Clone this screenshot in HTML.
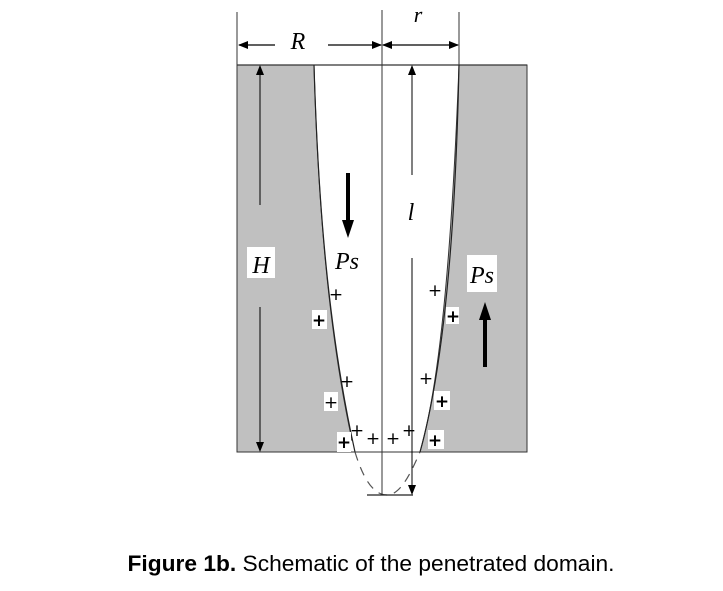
<!DOCTYPE html>
<html><head><meta charset="utf-8"><style>
body{margin:0;background:#fff;width:723px;height:591px;overflow:hidden}
</style></head><body>
<svg width="723" height="591" xmlns="http://www.w3.org/2000/svg" style="position:absolute;left:0;top:0">
<defs>
<marker id="a" markerWidth="10" markerHeight="8" refX="9" refY="4" orient="auto" markerUnits="userSpaceOnUse"><path d="M0,0 L10,4 L0,8 z" fill="#000"/></marker>
</defs>
<path d="M237,65 L314,65 C318,200 328,330 352,440 L338,440 L338,452 L237,452 Z" fill="#c0c0c0" stroke="#333" stroke-width="1"/>
<path d="M459,65 L527,65 L527,452 L420,452 C435,400 450,300 459,65 Z" fill="#c0c0c0" stroke="#333" stroke-width="1"/>
<line x1="237" y1="65" x2="527" y2="65" stroke="#333" stroke-width="1.2"/>
<path d="M314,65 C318,200 328,330 355,452" fill="none" stroke="#222" stroke-width="1.2"/>
<path d="M459,65 C455,260 440,380 420,452" fill="none" stroke="#222" stroke-width="1.2"/>
<path d="M355,452 C362,475 372,495 387,495 C400,495 410,475 420,452" fill="none" stroke="#555" stroke-width="1.2" stroke-dasharray="9,7"/>
<line x1="338" y1="452" x2="420" y2="452" stroke="#333" stroke-width="1"/>
<line x1="382" y1="10" x2="382" y2="495" stroke="#333" stroke-width="1"/>
<line x1="367" y1="495" x2="413" y2="495" stroke="#222" stroke-width="1.2"/>
<line x1="237" y1="12" x2="237" y2="65" stroke="#333"/>
<line x1="459" y1="12" x2="459" y2="65" stroke="#333"/>
<line x1="275" y1="45" x2="239" y2="45" stroke="#000" stroke-width="1.2" marker-end="url(#a)"/>
<line x1="328" y1="45" x2="381" y2="45" stroke="#000" stroke-width="1.2" marker-end="url(#a)"/>
<line x1="410" y1="45" x2="383" y2="45" stroke="#000" stroke-width="1.2" marker-end="url(#a)"/>
<line x1="410" y1="45" x2="458" y2="45" stroke="#000" stroke-width="1.2" marker-end="url(#a)"/>
<text x="298" y="49" font-family="Liberation Serif" font-style="italic" font-size="24" text-anchor="middle">R</text>
<text x="418" y="22" font-family="Liberation Serif" font-style="italic" font-size="22" text-anchor="middle">r</text>
<line x1="260" y1="205" x2="260" y2="66" stroke="#000" marker-end="url(#a)"/>
<line x1="260" y1="307" x2="260" y2="451" stroke="#000" marker-end="url(#a)"/>
<rect x="247" y="247" width="28" height="31" fill="#fff"/>
<text x="261" y="273" font-family="Liberation Serif" font-style="italic" font-size="24" text-anchor="middle">H</text>
<line x1="412" y1="175" x2="412" y2="66" stroke="#000" marker-end="url(#a)"/>
<line x1="412" y1="258" x2="412" y2="494" stroke="#000" marker-end="url(#a)"/>
<text x="411" y="220" font-family="Liberation Serif" font-style="italic" font-size="24" text-anchor="middle">l</text>
<line x1="348" y1="173" x2="348" y2="222" stroke="#000" stroke-width="4"/>
<path d="M342,220 L354,220 L348,238 Z" fill="#000"/>
<text x="347" y="269" font-family="Liberation Serif" font-style="italic" font-size="24" text-anchor="middle">Ps</text>
<line x1="485" y1="367" x2="485" y2="318" stroke="#000" stroke-width="4"/>
<path d="M479,320 L491,320 L485,302 Z" fill="#000"/>
<rect x="467" y="255" width="30" height="37" fill="#fff"/>
<text x="482" y="283" font-family="Liberation Serif" font-style="italic" font-size="24" text-anchor="middle">Ps</text>
<g font-family="DejaVu Sans" font-size="17" text-anchor="middle">
<text x="336" y="300">+</text>
<rect x="312" y="310" width="15" height="19" fill="#fff"/><text x="319" y="326" font-weight="bold">+</text>
<text x="347" y="387">+</text>
<rect x="324" y="392" width="14" height="19" fill="#fff"/><text x="331" y="408">+</text>
<text x="357" y="436">+</text>
<rect x="337" y="432" width="14" height="20" fill="#fff"/><text x="344" y="448" font-weight="bold">+</text>
<text x="373" y="444">+</text>
<text x="393" y="444">+</text>
<text x="409" y="436">+</text>
<text x="435" y="296">+</text>
<rect x="446" y="307" width="13" height="17" fill="#fff"/><text x="453" y="322" font-weight="bold">+</text>
<text x="426" y="384">+</text>
<rect x="434" y="391" width="16" height="19" fill="#fff"/><text x="442" y="407" font-weight="bold">+</text>
<rect x="428" y="430" width="16" height="19" fill="#fff"/><text x="435" y="446" font-weight="bold">+</text>
</g>
<text x="371" y="571" font-family="Liberation Sans" font-size="22" text-anchor="middle" textLength="487" lengthAdjust="spacingAndGlyphs"><tspan font-weight="bold">Figure 1b.</tspan> Schematic of the penetrated domain.</text>
</svg>
</body></html>
